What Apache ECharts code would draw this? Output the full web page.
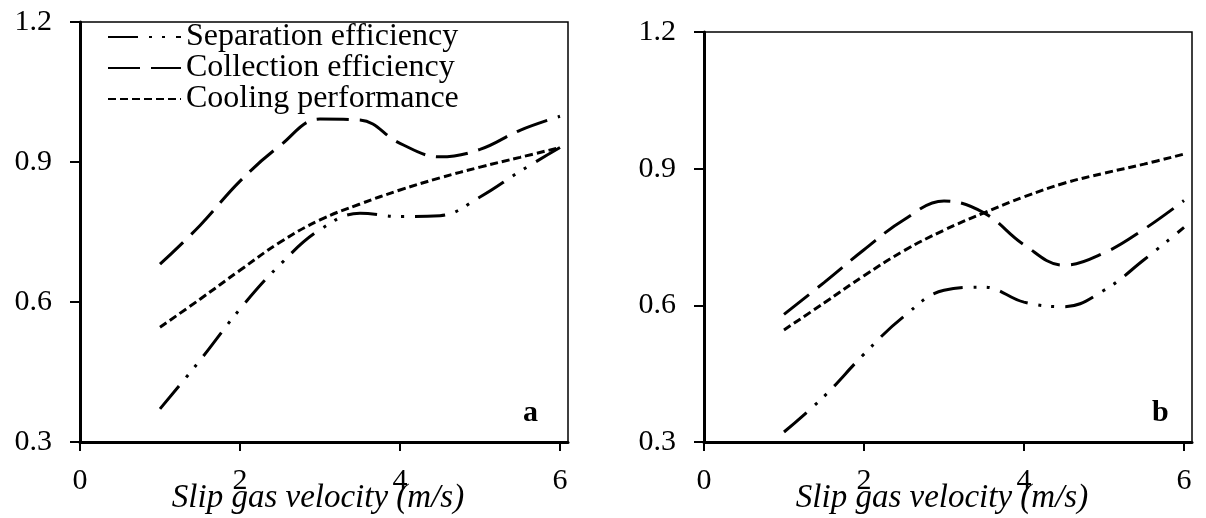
<!DOCTYPE html>
<html>
<head>
<meta charset="utf-8">
<script src="https://cdn.jsdelivr.net/npm/echarts@6/dist/echarts.min.js"></script>
<style>
  html, body { margin: 0; padding: 0; background: #fff; }
  #chart { width: 1206px; height: 518px; }
</style>
</head>
<body>
<div id="chart"></div>
<script>
// Slip gas velocity (m/s) at which each curve is sampled
const velocity = [1, 1.5, 2, 2.5, 3, 3.5, 4, 4.5, 5, 5.5, 6];

// Panel a
const separationA = [0.371, 0.475, 0.585, 0.680, 0.755, 0.790, 0.783, 0.785, 0.825, 0.880, 0.931];
const collectionA = [0.681, 0.764, 0.859, 0.935, 0.992, 0.990, 0.940, 0.911, 0.927, 0.968, 0.998];
const coolingA    = [0.546, 0.606, 0.668, 0.728, 0.776, 0.810, 0.840, 0.866, 0.889, 0.910, 0.931];

// Panel b
const separationB = [0.322, 0.400, 0.493, 0.576, 0.633, 0.640, 0.607, 0.597, 0.633, 0.700, 0.771];
const collectionB = [0.580, 0.650, 0.722, 0.788, 0.829, 0.803, 0.733, 0.688, 0.715, 0.767, 0.830];
const coolingB    = [0.546, 0.605, 0.665, 0.720, 0.765, 0.803, 0.838, 0.868, 0.890, 0.910, 0.932];

const seriesNames = ['Separation efficiency', 'Collection efficiency', 'Cooling performance'];
const xTicks = [0, 2, 4, 6];
const yTicks = [0.3, 0.6, 0.9, 1.2];
const panelLabels = ['a', 'b'];
const xTitle = 'Slip gas velocity (m/s)';

const FONT = '"Liberation Serif", "Times New Roman", serif';
const dashes = [
  [30, 11, 3, 10, 3, 11],   // dash-dot-dot
  [32, 11],                 // long dash
  [8, 4]                    // short dash
];

function pairs(ys) { return velocity.map((v, i) => [v, ys[i]]); }

function xAxis(gridIndex) {
  return {
    type: 'value', gridIndex, min: 0, max: 6.1,
    axisLine: { show: true, onZero: false, lineStyle: { color: '#000', width: 3 } },
    axisTick: { show: true, length: 9, customValues: xTicks, lineStyle: { color: '#000', width: 2 } },
    axisLabel: { customValues: xTicks, margin: 24, color: '#000', fontSize: 30, fontFamily: FONT },
    splitLine: { show: false },
    name: xTitle, nameLocation: 'middle', nameGap: 40, nameMoveOverlap: false,
    nameTextStyle: { color: '#000', fontSize: 33, fontStyle: 'italic', fontFamily: FONT,
                     padding: [0, 12, 0, 0] }
  };
}
function yAxis(gridIndex) {
  return {
    type: 'value', gridIndex, min: 0.3, max: 1.2, interval: 0.3,
    axisLine: { show: true, onZero: false, lineStyle: { color: '#000', width: 3 } },
    axisTick: { show: true, length: 10, customValues: yTicks, lineStyle: { color: '#000', width: 2 } },
    axisLabel: { customValues: yTicks, margin: 28, color: '#000', fontSize: 30, fontFamily: FONT,
                 formatter: v => v.toFixed(1) },
    splitLine: { show: false }
  };
}

const groups = [
  [separationA, collectionA, coolingA],
  [separationB, collectionB, coolingB]
];
const series = [];
groups.forEach((g, p) => {
  g.forEach((ys, k) => {
    series.push({
      name: seriesNames[k], type: 'line', xAxisIndex: p, yAxisIndex: p,
      data: pairs(ys), smooth: 0.4, symbol: 'none', silent: true,
      itemStyle: { color: '#000' },
      lineStyle: { color: '#000', width: 3, type: dashes[k], cap: 'butt' }
    });
  });
});

const gridBase = { show: true, borderColor: '#000', borderWidth: 1.5, containLabel: false, outerBoundsMode: 'none' };

const chart = echarts.init(document.getElementById('chart'), null, { renderer: 'canvas' });
chart.setOption({
  backgroundColor: '#fff',
  animation: false,
  grid: [
    Object.assign({ left: 80, top: 22, width: 488, height: 420 }, gridBase),
    Object.assign({ left: 704, top: 32, width: 488, height: 410 }, gridBase)
  ],
  xAxis: [xAxis(0), xAxis(1)],
  yAxis: [yAxis(0), yAxis(1)],
  legend: {
    data: seriesNames, orient: 'vertical', left: 107, top: 21, padding: 0,
    itemGap: -1, itemWidth: 73, itemHeight: 14, selectedMode: false,
    itemStyle: { opacity: 0 },
    textStyle: { color: '#000', fontSize: 32, fontFamily: FONT }
  },
  graphic: [
    { type: 'text', left: 523, top: 398, silent: true,
      style: { text: panelLabels[0], fill: '#000', font: 'bold 30px ' + FONT } },
    { type: 'text', left: 1152, top: 398, silent: true,
      style: { text: panelLabels[1], fill: '#000', font: 'bold 30px ' + FONT } }
  ],
  series
});
</script>
</body>
</html>
